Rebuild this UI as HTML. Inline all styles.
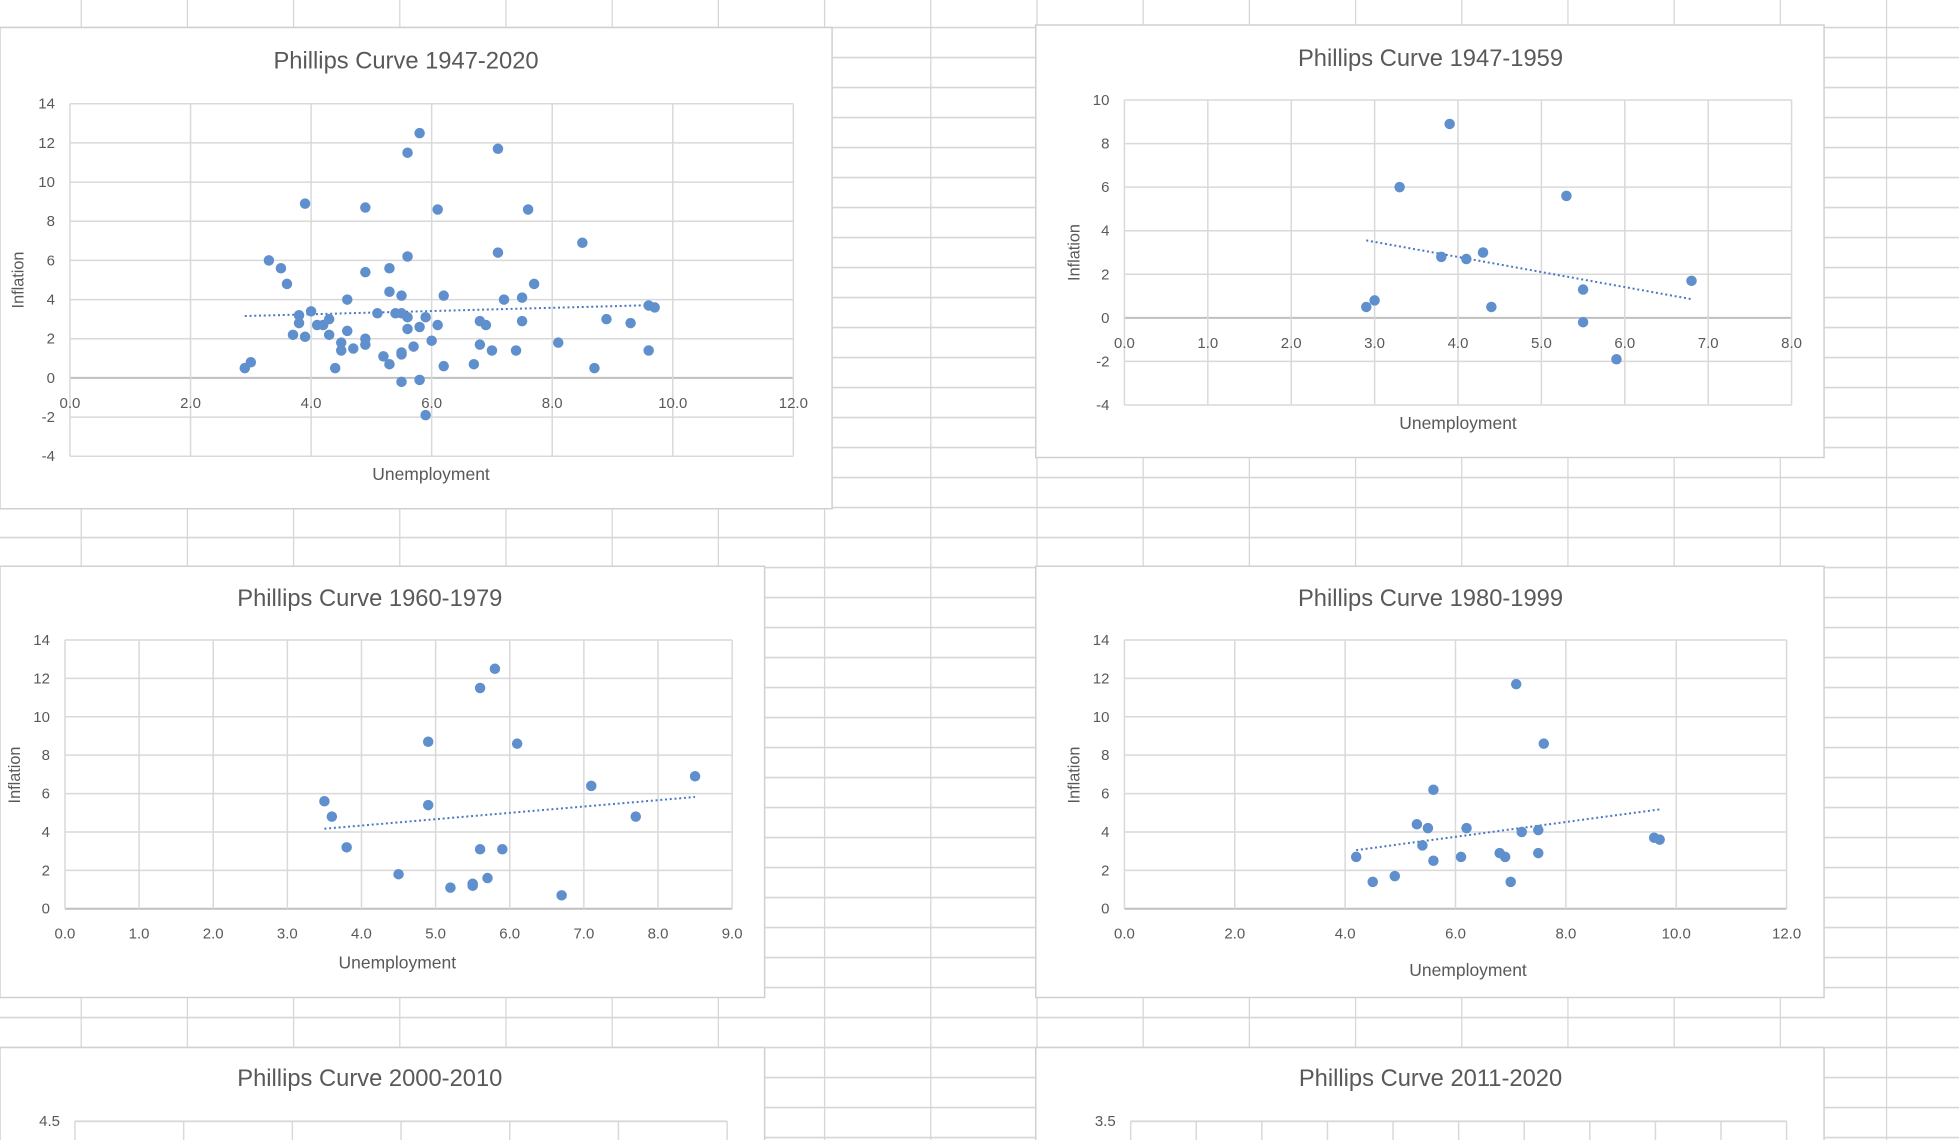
<!DOCTYPE html>
<html><head><meta charset="utf-8"><style>
html,body{margin:0;padding:0;background:#fff;overflow:hidden}
svg{display:block}
text{font-family:"Liberation Sans",sans-serif;fill:#595959}
</style></head><body>
<svg id="s" width="1959" height="1140" viewBox="0 0 1568 912" preserveAspectRatio="none" xmlns="http://www.w3.org/2000/svg"></svg>
<script>
// ---- data ----
const u_all=[2.9,3.0,3.3,3.5,3.6,3.7,3.8,3.8,3.9,3.9,4.0,4.1,4.2,4.3,4.3,4.4,4.5,4.5,4.6,4.6,4.7,4.9,4.9,4.9,4.9,5.1,5.2,5.3,5.3,5.3,5.4,5.5,5.5,5.5,5.5,5.5,5.6,5.6,5.6,5.6,5.7,5.8,5.8,5.8,5.9,5.9,6.0,6.1,6.1,6.2,6.2,6.7,6.8,6.8,6.9,7.0,7.1,7.1,7.2,7.4,7.5,7.5,7.6,7.7,8.1,8.5,8.7,8.9,9.3,9.6,9.6,9.7];
const i_all=[0.5,0.8,6.0,5.6,4.8,2.2,3.2,2.8,8.9,2.1,3.4,2.7,2.7,3.0,2.2,0.5,1.8,1.4,4.0,2.4,1.5,8.7,5.4,2.0,1.7,3.3,1.1,5.6,4.4,0.7,3.3,4.2,3.3,1.3,1.2,-0.2,11.5,6.2,3.1,2.5,1.6,12.5,2.6,-0.1,3.1,-1.9,1.9,8.6,2.7,4.2,0.6,0.7,2.9,1.7,2.7,1.4,11.7,6.4,4.0,1.4,4.1,2.9,8.6,4.8,1.8,6.9,0.5,3.0,2.8,3.7,1.4,3.6];
const u_4759=[2.9,3.0,3.3,3.8,3.9,4.1,4.3,4.4,5.3,5.5,5.5,5.9,6.8];
const i_4759=[0.5,0.8,6.0,2.8,8.9,2.7,3.0,0.5,5.6,1.3,-0.2,-1.9,1.7];
const u_6079=[3.5,3.6,3.8,4.5,4.9,4.9,5.2,5.5,5.5,5.6,5.6,5.7,5.8,5.9,6.1,6.7,7.1,7.7,8.5];
const i_6079=[5.6,4.8,3.2,1.8,8.7,5.4,1.1,1.3,1.2,11.5,3.1,1.6,12.5,3.1,8.6,0.7,6.4,4.8,6.9];
const u_8099=[4.2,4.5,4.9,5.3,5.4,5.5,5.6,5.6,6.1,6.2,6.8,6.9,7.0,7.1,7.2,7.5,7.5,7.6,9.6,9.7];
const i_8099=[2.7,1.4,1.7,4.4,3.3,4.2,6.2,2.5,2.7,4.2,2.9,2.7,1.4,11.7,4.0,4.1,2.9,8.6,3.7,3.6];
const xt1=["0.0","2.0","4.0","6.0","8.0","10.0","12.0"];
const yt1=["-4","-2","0","2","4","6","8","10","12","14"];
const xt2=["0.0","1.0","2.0","3.0","4.0","5.0","6.0","7.0","8.0"];
const yt2=["-4","-2","0","2","4","6","8","10"];
const xt3=["0.0","1.0","2.0","3.0","4.0","5.0","6.0","7.0","8.0","9.0"];
const yt3=["0","2","4","6","8","10","12","14"];

const NS="http://www.w3.org/2000/svg";
const svg=document.getElementById('s');
function el(tag,attrs,parent,txt){const e=document.createElementNS(NS,tag);for(const k in attrs)e.setAttribute(k,attrs[k]);if(txt!==undefined)e.textContent=txt;(parent||svg).appendChild(e);return e;}

// spreadsheet grid
const bg=el('g',{});


for(let x=65;x<1568;x+=85)el('line',{x1:x,y1:0,x2:x,y2:912,stroke:'#d6d6d6','stroke-width':1},bg);
for(let y=22-24;y<912;y+=24)if(y>0)el('line',{x1:0,y1:y,x2:1568,y2:y,stroke:'#d6d6d6','stroke-width':1.3},bg);

function chart(c){
  const g=el('g',{});
  
  
  el('rect',{x:c.bx,y:c.by,width:c.bw,height:c.bh,fill:'#fff',stroke:'#d0d0d0','stroke-width':1.2},g);
  const t=el('text',{x:c.tx,y:c.ty,'font-size':19,'text-anchor':'middle'},g,c.title);
  
  
  const xs=v=>c.px0+(v-c.xmin)/(c.xmax-c.xmin)*(c.px1-c.px0);
  const ys=v=>c.py1-(v-c.ymin)/(c.ymax-c.ymin)*(c.py1-c.py0);
  if(!c.partial){
    c.yt.forEach(s=>{const v=+s;const y=ys(v);
      el('line',{x1:c.px0,y1:y,x2:c.px1,y2:y,stroke:v===0?'#bfbfbf':'#d9d9d9','stroke-width':v===0?1.6:1.2},g);
      const l=el('text',{x:c.px0-12,y:y+4,'font-size':12,'text-anchor':'end'},g,s);
      
      
    });
    c.xt.forEach(s=>{const x=xs(+s);
      el('line',{x1:x,y1:c.py0,x2:x,y2:c.py1,stroke:'#d9d9d9','stroke-width':1.2},g);
      const ly=c.xAtZero?ys(0)+24:c.py1+24;
      const l=el('text',{x:x,y:ly,'font-size':12,'text-anchor':'middle'},g,s);
      
      
    });
    const yl=el('text',{x:0,y:0,'font-size':13,'text-anchor':'middle',transform:`translate(${c.ylx},${c.yly}) rotate(-90)`},g,'Inflation');
    
    
    const xl=el('text',{x:c.xlx,y:c.xly,'font-size':14,'text-anchor':'middle'},g,'Unemployment');
    
    
    // trendline (least squares)
    const n=c.u.length;let mx=0,my=0;for(let k=0;k<n;k++){mx+=c.u[k];my+=c.inf[k];}mx/=n;my/=n;
    let sxy=0,sxx=0;for(let k=0;k<n;k++){sxy+=(c.u[k]-mx)*(c.inf[k]-my);sxx+=(c.u[k]-mx)**2;}
    const b=sxy/sxx,a=my-b*mx;const x0=Math.min(...c.u),x1=Math.max(...c.u);
    const tl=el('line',{x1:xs(x0),y1:ys(a+b*x0),x2:xs(x1),y2:ys(a+b*x1),stroke:'#4a78c2','stroke-width':1.6,'stroke-dasharray':'1.6 2.2'},g);
    
    
    c.u.forEach((uv,k)=>{
      const p=el('circle',{cx:xs(uv),cy:ys(c.inf[k]),r:4.2,fill:'#5f8fcc'},g);
      
      
    });
  } else {
    el('line',{x1:c.px0,y1:c.py0,x2:c.px1,y2:c.py0,stroke:'#d9d9d9','stroke-width':1.5},g);
    for(let k=0;k<=c.nv;k++){const x=c.px0+k*(c.px1-c.px0)/c.nv;el('line',{x1:x,y1:c.py0,x2:x,y2:912,stroke:'#d9d9d9','stroke-width':1.2},g);}
    const l=el('text',{x:c.px0-12,y:c.py0+4,'font-size':12,'text-anchor':'end'},g,c.topLabel);
    
    
  }
}
chart({name:'chart-1947-2020',title:'Phillips Curve 1947-2020',bx:0,by:22,bw:666,bh:385,tx:325,ty:55,
  px0:56,px1:635,py0:83,py1:365,xmin:0,xmax:12,ymin:-4,ymax:14,xt:xt1,yt:yt1,xAtZero:true,
  ylx:19,yly:224,xlx:345,xly:384,u:u_all,inf:i_all});
chart({name:'chart-1947-1959',title:'Phillips Curve 1947-1959',bx:829,by:20,bw:631,bh:346,tx:1145,ty:53,
  px0:900,px1:1434,py0:80,py1:324,xmin:0,xmax:8,ymin:-4,ymax:10,xt:xt2,yt:yt2,xAtZero:true,
  ylx:864,yly:202,xlx:1167,xly:343,u:u_4759,inf:i_4759});
chart({name:'chart-1960-1979',title:'Phillips Curve 1960-1979',bx:0,by:453,bw:612,bh:345,tx:296,ty:485,
  px0:52,px1:586,py0:512,py1:727,xmin:0,xmax:9,ymin:0,ymax:14,xt:xt3,yt:yt3,xAtZero:false,
  ylx:16,yly:620,xlx:318,xly:775,u:u_6079,inf:i_6079});
chart({name:'chart-1980-1999',title:'Phillips Curve 1980-1999',bx:829,by:453,bw:631,bh:345,tx:1145,ty:485,
  px0:900,px1:1430,py0:512,py1:727,xmin:0,xmax:12,ymin:0,ymax:14,xt:xt1.slice(0),yt:yt3,xAtZero:false,
  ylx:864,yly:620,xlx:1175,xly:781,u:u_8099,inf:i_8099});
chart({name:'chart-2000-2010',title:'Phillips Curve 2000-2010',bx:0,by:838,bw:612,bh:100,tx:296,ty:869,
  partial:true,px0:60,px1:582,py0:897,nv:6,topLabel:'4.5'});
chart({name:'chart-2011-2020',title:'Phillips Curve 2011-2020',bx:829,by:838,bw:631,bh:100,tx:1145,ty:869,
  partial:true,px0:905,px1:1430,py0:897,nv:10,topLabel:'3.5'});
</script>
</body></html>
